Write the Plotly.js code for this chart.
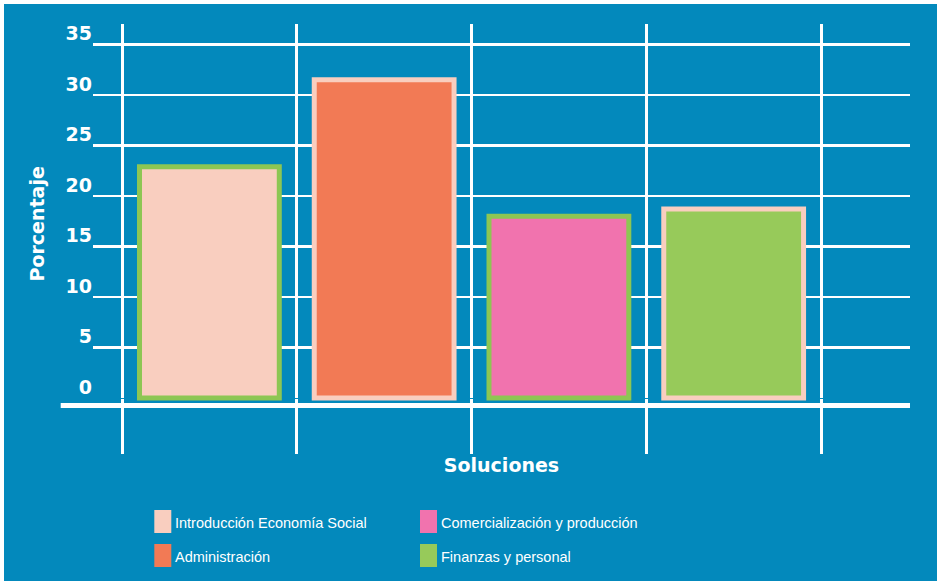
<!DOCTYPE html>
<html>
<head>
<meta charset="utf-8">
<script src="https://cdn.plot.ly/plotly-3.0.1.min.js"></script>
<style>
  html, body { margin: 0; padding: 0; background: #ffffff; }
  #chart { position: absolute; left: 4px; top: 4px; width: 933px; height: 577px; }
</style>
</head>
<body>
<div id="chart"></div>
<script>
// ---- data ----
const categories = ["Introducción Economía Social", "Administración", "Comercialización y producción", "Finanzas y personal"];
const values = [22.9, 31.5, 18.0, 18.7];
const fillColors = ["#F9CEBF", "#F27A55", "#F173AE", "#97CA5A"];
const outlineColors = ["#8DC653", "#F9CEBF", "#8DC653", "#F9CEBF"];
const yTicks = [0, 5, 10, 15, 20, 25, 30, 35];
const yTitle = "Porcentaje";
const xTitle = "Soluciones";
// legend layout: column-major (col 1: items 0,1 ; col 2: items 2,3)

const BLUE = "#0389BC";
const W = 933, H = 577;
const M = {l: 89, r: 27, t: 20, b: 127};
const plotW = W - M.l - M.r, plotH = H - M.t - M.b;
// page pixel -> paper coords (div offset 4px)
const px = x => (x - 4 - M.l) / plotW;
const py = y => (H - M.b - (y - 4)) / plotH;

const trace = {
  type: "bar",
  x: categories,
  y: values,
  width: 0.8,
  marker: {color: fillColors, line: {color: outlineColors, width: 5}},
  hoverinfo: "x+y",
  showlegend: false
};

const shapes = [
  // thick baseline
  {type: "line", xref: "paper", yref: "y", x0: px(60.7), x1: 1, y0: -0.74, y1: -0.74,
   line: {color: "#ffffff", width: 5}, layer: "above"}
];
const annotations = [
  {text: "<b>" + yTitle + "</b>", xref: "paper", yref: "paper", x: px(37), y: py(224.5),
   xanchor: "center", yanchor: "middle", textangle: -90, showarrow: false,
   font: {family: "DejaVu Sans", size: 19, color: "#ffffff"}}
];
const legendCols = [154.3, 420];
const legendRows = [510, 544];
categories.forEach((c, i) => {
  const col = Math.floor(i / 2), row = i % 2;
  const x0 = legendCols[col], y0 = legendRows[row];
  shapes.push({type: "rect", xref: "paper", yref: "paper",
    x0: px(x0), x1: px(x0 + 17), y0: py(y0), y1: py(y0 + 23),
    fillcolor: fillColors[i], line: {width: 0}, layer: "above"});
  annotations.push({text: c, xref: "paper", yref: "paper",
    x: px(x0 + 19), y: py(y0 + 13), xanchor: "left", yanchor: "middle", showarrow: false,
    font: {family: "Liberation Sans, Arial, sans-serif", size: 14.5, color: "#ffffff"}});
});

const layout = {
  width: W, height: H,
  margin: M,
  paper_bgcolor: BLUE, plot_bgcolor: BLUE,
  showlegend: false,
  xaxis: {
    type: "category",
    range: [-0.666, 4.009],
    tickson: "boundaries",
    showgrid: true, gridcolor: "#ffffff", gridwidth: 3,
    showticklabels: false, ticks: "", showline: false, zeroline: false,
    title: {text: "<b>" + xTitle + "</b>", standoff: 4,
            font: {family: "DejaVu Sans", size: 19, color: "#ffffff"}}
  },
  yaxis: {
    range: [-5.54, 37.02],
    tickvals: yTicks,
    ticktext: yTicks.map(String),
    showgrid: true, gridcolor: "#ffffff", gridwidth: 2.5,
    zeroline: true, zerolinecolor: BLUE, zerolinewidth: 1,
    ticks: "", showline: false,
    ticklabelstandoff: 0,
    ticklabelshift: -11,
    tickfont: {family: "DejaVu Sans", size: 19, color: "#ffffff", weight: "bold"}
  },
  shapes: shapes,
  annotations: annotations,
  bargap: 0.2
};

Plotly.newPlot("chart", [trace], layout, {displayModeBar: false, staticPlot: true});
</script>
</body>
</html>
